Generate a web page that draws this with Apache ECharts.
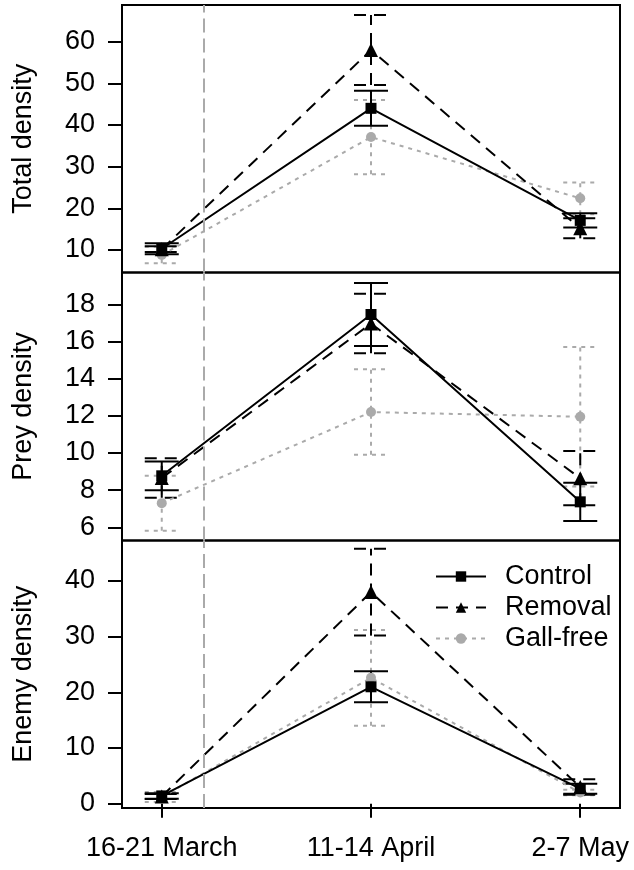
<!DOCTYPE html>
<html><head><meta charset="utf-8">
<script src="https://cdn.jsdelivr.net/npm/echarts@6/dist/echarts.min.js"></script>
<style>html,body{margin:0;padding:0;background:#fff}#c{width:634px;height:870px}</style>
</head><body><div id="c"></div>
<script>
const dates = ['16-21 March', '11-14 April', '2-7 May'];
const xPos = [1, 2, 3];
const treatments = ['Control', 'Removal', 'Gall-free'];
// Total density (mean, SE)
const totalControl = [10.3, 44.0, 17.1];
const totalControlSE = [1.3, 4.2, 1.7];
const totalRemoval = [10.2, 58.0, 15.2];
const totalRemovalSE = [0.7, 8.4, 2.4];
const totalGall = [8.8, 37.1, 22.4];
const totalGallSE = [2.0, 8.9, 3.8];
// Prey density
const preyControl = [8.77, 17.45, 7.37];
const preyControlSE = [0.77, 1.69, 1.03];
const preyRemoval = [8.65, 16.96, 8.64];
const preyRemovalSE = [1.06, 1.6, 1.46];
const preyGall = [7.3, 12.2, 11.95];
const preyGallSE = [1.48, 2.3, 3.75];
// Enemy density
const enemyControl = [1.4, 21.0, 2.7];
const enemyControlSE = [0.5, 2.8, 0.9];
const enemyRemoval = [1.3, 38.0, 3.0];
const enemyRemovalSE = [0.45, 7.8, 1.4];
const enemyGall = [1.2, 22.6, 2.0];
const enemyGallSE = [0.9, 8.6, 0.5];
// axis ticks
const totalTicks = [10, 20, 30, 40, 50, 60];
const preyTicks = [6, 8, 10, 12, 14, 16, 18];
const enemyTicks = [0, 10, 20, 30, 40];
const panelNames = ['Total density', 'Prey density', 'Enemy density'];
const markerX = 1.2;

const FONT = "'Liberation Sans', Arial, Helvetica, sans-serif";
const FS = 27;
const GRAY = '#aaaaaa';
const styles = {
  'Control': {color: '#000', type: 'solid', dash: null, symbol: 'rect', size: 11, width: 2},
  'Removal': {color: '#000', type: [12, 8], dash: [12, 8], symbol: 'triangle', size: 14, width: 2},
  'Gall-free': {color: GRAY, type: [4, 5], dash: [4, 5], symbol: 'circle', size: 10, width: 2}
};
const panels = [
  {name: panelNames[0], ticks: totalTicks, min: 4.6, max: 68.8,
   data: {'Control': [totalControl, totalControlSE], 'Removal': [totalRemoval, totalRemovalSE], 'Gall-free': [totalGall, totalGallSE]}},
  {name: panelNames[1], ticks: preyTicks, min: 5.29, max: 19.71,
   data: {'Control': [preyControl, preyControlSE], 'Removal': [preyRemoval, preyRemovalSE], 'Gall-free': [preyGall, preyGallSE]}},
  {name: panelNames[2], ticks: enemyTicks, min: -0.77, max: 47.27,
   data: {'Control': [enemyControl, enemyControlSE], 'Removal': [enemyRemoval, enemyRemovalSE], 'Gall-free': [enemyGall, enemyGallSE]}}
];
const gridTops = [5, 272.5, 540.5];
const gridHeights = [267.5, 268, 267.5];

function errRender(st) {
  return function (params, api) {
    const x = api.value(0), lo = api.value(1), hi = api.value(2);
    const p1 = api.coord([x, lo]), p2 = api.coord([x, hi]);
    const hw = 17;
    const style = {stroke: st.color, lineWidth: st.width, lineDash: st.dash, fill: null};
    return {type: 'group', children: [
      {type: 'line', shape: {x1: p1[0], y1: p1[1], x2: p2[0], y2: p2[1]}, style: style},
      {type: 'line', shape: {x1: p1[0] - hw, y1: p1[1], x2: p1[0] + hw, y2: p1[1]}, style: style},
      {type: 'line', shape: {x1: p2[0] - hw, y1: p2[1], x2: p2[0] + hw, y2: p2[1]}, style: style}
    ]};
  };
}

const grids = [], xAxes = [], yAxes = [], series = [];
panels.forEach((p, i) => {
  grids.push({left: 122, right: 14, top: gridTops[i], height: gridHeights[i], show: true,
    borderColor: '#000', borderWidth: 2, backgroundColor: 'transparent'});
  const isBottom = i === 2;
  xAxes.push({type: 'value', gridIndex: i, min: 0.81, max: 3.19,
    axisLine: {show: false}, splitLine: {show: false},
    axisTick: {show: isBottom, customValues: xPos, length: 14, lineStyle: {color: '#000', width: 2}},
    axisLabel: {show: isBottom, customValues: xPos, margin: 27, color: '#000', fontSize: FS, fontFamily: FONT,
      formatter: v => dates[Math.round(v) - 1]}});
  yAxes.push({type: 'value', gridIndex: i, min: p.min, max: p.max,
    name: p.name, nameLocation: 'middle', nameGap: 85, nameRotate: 90,
    nameTextStyle: {color: '#000', fontSize: FS, fontFamily: FONT},
    axisLine: {show: false}, splitLine: {show: false},
    axisTick: {show: true, customValues: p.ticks, length: 14, lineStyle: {color: '#000', width: 2}},
    axisLabel: {show: true, customValues: p.ticks, margin: 27, color: '#000', fontSize: FS, fontFamily: FONT}});
  ['Gall-free', 'Removal', 'Control'].forEach(t => {
    const st = styles[t];
    const mean = p.data[t][0], se = p.data[t][1];
    series.push({type: 'custom', name: t + ' SE' + i, xAxisIndex: i, yAxisIndex: i,
      renderItem: errRender(st), silent: true, z: 3,
      data: xPos.map((x, k) => [x, mean[k] - se[k], mean[k] + se[k]])});
    series.push({type: 'line', name: t, xAxisIndex: i, yAxisIndex: i,
      data: xPos.map((x, k) => [x, mean[k]]),
      symbol: st.symbol, symbolSize: st.size, showSymbol: true,
      itemStyle: {color: st.color, borderWidth: 0},
      lineStyle: {color: st.color, type: st.type, width: st.width},
      animation: false, z: 4});
  });
  series.push({type: 'line', name: 'ref' + i, xAxisIndex: i, yAxisIndex: i, data: [],
    markLine: {symbol: 'none', silent: true, animation: false, label: {show: false},
      lineStyle: {color: GRAY, type: [14, 6], width: 2},
      data: [{xAxis: markerX}]}});
});

const chart = echarts.init(document.getElementById('c'));
chart.setOption({
  animation: false,
  backgroundColor: '#fff',
  grid: grids, xAxis: xAxes, yAxis: yAxes, series: series,
  legend: {data: treatments, orient: 'vertical', left: 430, top: 558, itemWidth: 50, itemHeight: 13,
    itemGap: 4, selectedMode: false,
    textStyle: {color: '#000', fontSize: FS, fontFamily: FONT, lineHeight: 27, padding: [0, 0, 0, 14]}}
});
</script></body></html>
